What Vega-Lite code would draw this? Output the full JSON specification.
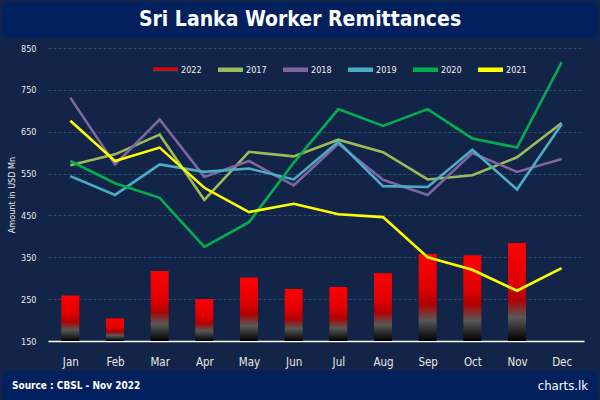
{
  "$schema": "https://vega.github.io/schema/vega-lite/v6.json",
  "background": "#122447",
  "padding": 2,
  "spacing": 6,
  "config": {
    "font": "DejaVu Sans Condensed",
    "view": {"stroke": null}
  },
  "datasets": {
    "bars": [
      {"month": "Jan", "year": "2022", "amount": 259},
      {"month": "Feb", "year": "2022", "amount": 204},
      {"month": "Mar", "year": "2022", "amount": 317},
      {"month": "Apr", "year": "2022", "amount": 250},
      {"month": "May", "year": "2022", "amount": 302},
      {"month": "Jun", "year": "2022", "amount": 274},
      {"month": "Jul", "year": "2022", "amount": 279},
      {"month": "Aug", "year": "2022", "amount": 312},
      {"month": "Sep", "year": "2022", "amount": 358},
      {"month": "Oct", "year": "2022", "amount": 355},
      {"month": "Nov", "year": "2022", "amount": 384}
    ],
    "lines": [
      {"month": "Jan", "year": "2017", "amount": 570},
      {"month": "Feb", "year": "2017", "amount": 596},
      {"month": "Mar", "year": "2017", "amount": 643},
      {"month": "Apr", "year": "2017", "amount": 487},
      {"month": "May", "year": "2017", "amount": 602},
      {"month": "Jun", "year": "2017", "amount": 591},
      {"month": "Jul", "year": "2017", "amount": 631},
      {"month": "Aug", "year": "2017", "amount": 601},
      {"month": "Sep", "year": "2017", "amount": 536},
      {"month": "Oct", "year": "2017", "amount": 546},
      {"month": "Nov", "year": "2017", "amount": 589},
      {"month": "Dec", "year": "2017", "amount": 671},
      {"month": "Jan", "year": "2018", "amount": 731},
      {"month": "Feb", "year": "2018", "amount": 572},
      {"month": "Mar", "year": "2018", "amount": 679},
      {"month": "Apr", "year": "2018", "amount": 542},
      {"month": "May", "year": "2018", "amount": 580},
      {"month": "Jun", "year": "2018", "amount": 522},
      {"month": "Jul", "year": "2018", "amount": 621},
      {"month": "Aug", "year": "2018", "amount": 535},
      {"month": "Sep", "year": "2018", "amount": 499},
      {"month": "Oct", "year": "2018", "amount": 599},
      {"month": "Nov", "year": "2018", "amount": 554},
      {"month": "Dec", "year": "2018", "amount": 585},
      {"month": "Jan", "year": "2019", "amount": 544},
      {"month": "Feb", "year": "2019", "amount": 499},
      {"month": "Mar", "year": "2019", "amount": 572},
      {"month": "Apr", "year": "2019", "amount": 554},
      {"month": "May", "year": "2019", "amount": 562},
      {"month": "Jun", "year": "2019", "amount": 536},
      {"month": "Jul", "year": "2019", "amount": 626},
      {"month": "Aug", "year": "2019", "amount": 520},
      {"month": "Sep", "year": "2019", "amount": 518},
      {"month": "Oct", "year": "2019", "amount": 607},
      {"month": "Nov", "year": "2019", "amount": 512},
      {"month": "Dec", "year": "2019", "amount": 668},
      {"month": "Jan", "year": "2020", "amount": 580},
      {"month": "Feb", "year": "2020", "amount": 527},
      {"month": "Mar", "year": "2020", "amount": 492},
      {"month": "Apr", "year": "2020", "amount": 375},
      {"month": "May", "year": "2020", "amount": 434},
      {"month": "Jun", "year": "2020", "amount": 576},
      {"month": "Jul", "year": "2020", "amount": 704},
      {"month": "Aug", "year": "2020", "amount": 664},
      {"month": "Sep", "year": "2020", "amount": 704},
      {"month": "Oct", "year": "2020", "amount": 634},
      {"month": "Nov", "year": "2020", "amount": 612},
      {"month": "Dec", "year": "2020", "amount": 816},
      {"month": "Jan", "year": "2021", "amount": 676},
      {"month": "Feb", "year": "2021", "amount": 580},
      {"month": "Mar", "year": "2021", "amount": 612},
      {"month": "Apr", "year": "2021", "amount": 516},
      {"month": "May", "year": "2021", "amount": 458},
      {"month": "Jun", "year": "2021", "amount": 478},
      {"month": "Jul", "year": "2021", "amount": 453},
      {"month": "Aug", "year": "2021", "amount": 446},
      {"month": "Sep", "year": "2021", "amount": 350},
      {"month": "Oct", "year": "2021", "amount": 320},
      {"month": "Nov", "year": "2021", "amount": 270},
      {"month": "Dec", "year": "2021", "amount": 324}
    ]
  },
  "vconcat": [
    {
      "width": 596,
      "height": 36,
      "view": {"fill": "#02205e", "cornerRadius": 6, "stroke": null},
      "data": {"values": [{"t": "Sri Lanka Worker Remittances"}]},
      "mark": {"type": "text", "fontSize": 21, "fontWeight": "bold", "color": "#ffffff", "align": "center", "baseline": "middle"},
      "encoding": {"text": {"field": "t"}}
    },
    {
      "spacing": 3,
      "vconcat": [
        {
          "width": 582,
          "height": 293,
          "layer": [
            {
              "data": {"name": "bars"},
              "mark": {
                "type": "bar",
                "size": 18,
                "color": {
                  "gradient": "linear",
                  "x1": 0, "y1": 0, "x2": 0, "y2": 1,
                  "stops": [
                    {"offset": 0, "color": "#ff0000"},
                    {"offset": 0.4, "color": "#e00000"},
                    {"offset": 0.58, "color": "#b00000"},
                    {"offset": 0.76, "color": "#585858"},
                    {"offset": 1, "color": "#000000"}
                  ]
                }
              },
              "encoding": {
                "x": {
                  "field": "month", "type": "nominal",
                  "sort": ["Jan", "Feb", "Mar", "Apr", "May", "Jun", "Jul", "Aug", "Sep", "Oct", "Nov", "Dec"],
                  "scale": {"type": "point", "padding": 0.5, "range": [46, 582]},
                  "axis": {"title": null, "labelAngle": 0, "ticks": false, "grid": false, "domainColor": "#ffffff", "domainWidth": 1.5, "labelPadding": 15, "labelFontSize": 11.5, "labelColor": "#e8e8e8"}
                },
                "y": {
                  "field": "amount", "type": "quantitative",
                  "scale": {"domain": [150, 850], "nice": false, "zero": false},
                  "axis": {"title": "Amount in USD Mn", "values": [150, 250, 350, 450, 550, 650, 750, 850], "offset": -46, "domain": false, "ticks": false, "labelPadding": 12, "labelFontSize": 9, "labelColor": "#e8e8e8", "titleColor": "#e8e8e8", "titleFontSize": 9, "titleFontWeight": "normal", "titlePadding": 4, "gridColor": "#24506e", "gridDash": [3, 2]}
                },
                "y2": {"datum": 150}
              }
            },
            {
              "data": {"name": "lines"},
              "mark": {"type": "line", "strokeWidth": 2.6},
              "encoding": {
                "x": {"field": "month", "type": "nominal", "sort": ["Jan", "Feb", "Mar", "Apr", "May", "Jun", "Jul", "Aug", "Sep", "Oct", "Nov", "Dec"]},
                "y": {"field": "amount", "type": "quantitative"},
                "color": {
                  "field": "year", "type": "nominal",
                  "scale": {"domain": ["2022", "2017", "2018", "2019", "2020", "2021"], "range": ["#e00000", "#9bbb59", "#8064a2", "#4bacc6", "#00b050", "#ffff00"]},
                  "legend": {
                    "title": null,
                    "orient": "none",
                    "legendX": 151,
                    "legendY": 55,
                    "direction": "horizontal",
                    "symbolType": "M-1,-0.18H1V0.18H-1Z",
                    "symbolSize": 625,
                    "symbolStrokeWidth": 0,
                    "labelFontSize": 9,
                    "labelColor": "#f0f0f0",
                    "labelOffset": 3,
                    "columnPadding": 16,
                    "encode": {
                      "symbols": {
                        "update": {
                          "fill": [
                            {"test": "datum.value === '2022'", "value": {"gradient": "linear", "x1": 0, "y1": 0, "x2": 0, "y2": 1, "stops": [{"offset": 0, "color": "#ff0000"}, {"offset": 0.5, "color": "#d00000"}, {"offset": 0.75, "color": "#555555"}, {"offset": 1, "color": "#111111"}]}},
                            {"scale": "color", "field": "value"}
                          ],
                          "stroke": {"value": "transparent"},
                          "opacity": {"value": 1}
                        }
                      }
                    }
                  }
                }
              }
            }
          ]
        },
        {
          "width": 596,
          "height": 30,
          "view": {"fill": "#02205e", "cornerRadius": 6, "stroke": null},
          "data": {"values": [{"src": "Source : CBSL - Nov 2022", "brand": "charts.lk"}]},
          "layer": [
            {
              "mark": {"type": "text", "fontSize": 10, "fontWeight": "bold", "color": "#ffffff", "align": "left", "baseline": "middle", "x": 10},
              "encoding": {"text": {"field": "src"}}
            },
            {
              "mark": {"type": "text", "fontSize": 13, "color": "#ffffff", "align": "right", "baseline": "middle", "x": 586},
              "encoding": {"text": {"field": "brand"}}
            }
          ]
        }
      ]
    }
  ]
}
